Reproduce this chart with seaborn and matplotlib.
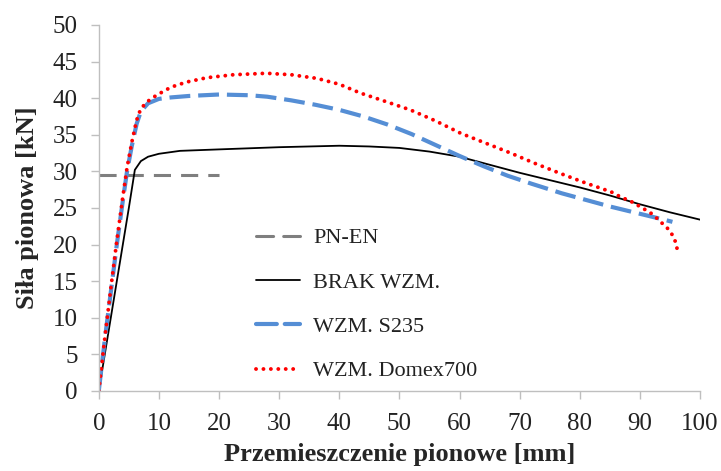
import matplotlib

matplotlib.use("Agg")
import matplotlib.pyplot as plt
import seaborn as sns

# ## Data

# PN-EN reference level
pnen_x = [0, 20]
pnen_y = [29.5, 29.5]

# BRAK WZM. (no strengthening)
brak_x = [0, 1, 2, 3, 4, 5, 6.0, 7.0, 8.2, 10, 13.5, 20, 30, 40, 45, 50,
          55, 60, 65, 70, 75, 80, 85, 90, 95, 97.5, 100]
brak_y = [0, 5, 10, 15, 20, 25, 30.2, 31.4, 32.0, 32.4, 32.8, 33.0, 33.3,
          33.5, 33.4, 33.2, 32.7, 32.0, 30.9, 29.8, 28.8, 27.8, 26.7, 25.5,
          24.4, 23.9, 23.4]

# WZM. S235
s235_x = [0, 1, 2, 3, 4, 4.7, 5.5, 6.3, 7.0, 8.2, 10, 12, 15, 20, 25, 28,
          32, 36, 40, 44, 48, 52, 56, 60, 64, 68, 72, 77, 81, 85, 89, 92, 94,
          95.4]
s235_y = [0, 7, 13.5, 20, 26, 30, 33.5, 36.5, 38.2, 39.3, 39.9, 40.1, 40.3,
          40.5, 40.4, 40.2, 39.7, 39.1, 38.4, 37.5, 36.4, 35.1, 33.6, 32.1,
          30.7, 29.4, 28.3, 27.0, 26.1, 25.2, 24.4, 23.8, 23.4, 23.1]

# WZM. Domex700
domex_x = [0, 1, 2, 3, 4, 4.7, 5.5, 6.3, 7.0, 8.2, 9.6, 12, 14.6, 18, 22.4,
           27.9, 32, 36.3, 40, 43.5, 47.5, 51.8, 56, 60.2, 64.5, 68.5, 72.5,
           76.8, 81, 85.2, 86.8, 88.5, 90.4, 91.8, 92.8, 93.7, 94.6, 95.4,
           96.0, 96.2]
domex_y = [0, 7.2, 14, 20.5, 26.5, 30.5, 34, 37, 38.6, 39.6, 40.4, 41.5,
           42.2, 42.8, 43.2, 43.4, 43.2, 42.7, 41.9, 40.7, 39.6, 38.4, 36.9,
           35.2, 33.8, 32.5, 31.1, 29.7, 28.4, 27.2, 26.5, 25.9, 25.0, 24.3,
           23.6, 22.9, 22.2, 21.3, 20.2, 19.3]

x_ticks = list(range(0, 101, 10))
y_ticks = list(range(0, 51, 5))

# ## Plot

sns.set_theme(style="ticks")
plt.rcParams["font.family"] = ["Liberation Serif", "DejaVu Serif"]

fig, ax = plt.subplots(figsize=(7.21, 4.71), dpi=100)
fig.subplots_adjust(left=0.137, right=0.971, bottom=0.170, top=0.947)

sns.lineplot(x=pnen_x, y=pnen_y, ax=ax, color="#7f7f7f", linewidth=2.2,
             linestyle=(0, (5.6, 3.3)), label="PN-EN", sort=False,
             estimator=None)
sns.lineplot(x=brak_x, y=brak_y, ax=ax, color="black", linewidth=1.3,
             label="BRAK WZM.", sort=False, estimator=None)
sns.lineplot(x=s235_x, y=s235_y, ax=ax, color="#558ed5", linewidth=3.0,
             linestyle=(0, (5.0, 1.9)), label="WZM. S235", sort=False,
             estimator=None)
sns.lineplot(x=domex_x, y=domex_y, ax=ax, color="#ff0000", linewidth=2.8,
             linestyle=(0, (0.01, 1.9)), dash_capstyle="round",
             label="WZM. Domex700", sort=False, estimator=None)

ax.set_xlim(0, 100)
ax.set_ylim(0, 50)
ax.set_xticks(x_ticks)
ax.set_yticks(y_ticks)
ax.tick_params(axis="both", labelsize=18, color="#bfbfbf", length=6,
               width=1, labelcolor="#222222")
ax.tick_params(axis="x", pad=10)
ax.tick_params(axis="y", pad=9)

sns.despine(ax=ax)
for side in ["left", "bottom"]:
    ax.spines[side].set_color("#bfbfbf")
    ax.spines[side].set_linewidth(1)

ax.set_xlabel("Przemieszczenie pionowe [mm]", fontsize=19,
              fontweight="bold", labelpad=6)
ax.set_ylabel("Siła pionowa [kN]", fontsize=19, fontweight="bold",
              labelpad=10)

leg = ax.legend(loc="center left", bbox_to_anchor=(0.246, 0.236),
                frameon=False, fontsize=16, handlelength=2.0,
                handletextpad=0.6, labelspacing=1.07, borderaxespad=0)
for line in leg.get_lines():
    line.set_dash_capstyle("round")
for text in leg.get_texts():
    text.set_color("#222222")

fig.savefig("out.png", dpi=100)
